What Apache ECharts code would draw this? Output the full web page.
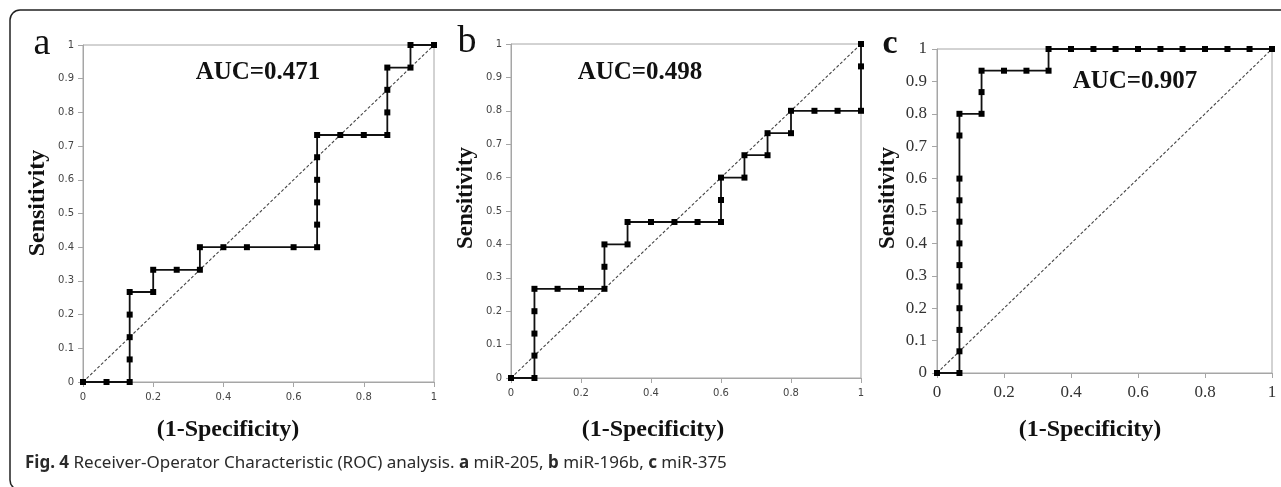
<!DOCTYPE html>
<html>
<head>
<meta charset="utf-8">
<script src="https://cdn.jsdelivr.net/npm/echarts@6/dist/echarts.min.js"></script>
<style>
html,body{margin:0;padding:0;background:#fff;}
#chart{width:1281px;height:487px;}
</style>
</head>
<body>
<div id="chart"></div>
<script>
// ---- data ----
const panelLabels = ['a', 'b', 'c'];
const aucTexts = ['AUC=0.471', 'AUC=0.498', 'AUC=0.907'];
const xTitle = '(1-Specificity)';
const yTitle = 'Sensitivity';
const caption = 'Receiver-Operator Characteristic (ROC) analysis.';

const fprA = [0, 0.067, 0.133, 0.133, 0.133, 0.133, 0.133, 0.2, 0.2, 0.267, 0.333, 0.333, 0.4, 0.467, 0.6, 0.667, 0.667, 0.667, 0.667, 0.667, 0.667, 0.733, 0.8, 0.867, 0.867, 0.867, 0.867, 0.933, 0.933, 1];
const tprA = [0, 0, 0, 0.067, 0.133, 0.2, 0.267, 0.267, 0.333, 0.333, 0.333, 0.4, 0.4, 0.4, 0.4, 0.4, 0.467, 0.533, 0.6, 0.667, 0.733, 0.733, 0.733, 0.733, 0.8, 0.867, 0.933, 0.933, 1, 1];

const fprB = [0, 0.067, 0.067, 0.067, 0.067, 0.067, 0.133, 0.2, 0.267, 0.267, 0.267, 0.333, 0.333, 0.4, 0.467, 0.533, 0.6, 0.6, 0.6, 0.667, 0.667, 0.733, 0.733, 0.8, 0.8, 0.867, 0.933, 1, 1, 1];
const tprB = [0, 0, 0.067, 0.133, 0.2, 0.267, 0.267, 0.267, 0.267, 0.333, 0.4, 0.4, 0.467, 0.467, 0.467, 0.467, 0.467, 0.533, 0.6, 0.6, 0.667, 0.667, 0.733, 0.733, 0.8, 0.8, 0.8, 0.8, 0.933, 1];

const fprC = [0, 0.067, 0.067, 0.067, 0.067, 0.067, 0.067, 0.067, 0.067, 0.067, 0.067, 0.067, 0.067, 0.133, 0.133, 0.133, 0.2, 0.267, 0.333, 0.333, 0.4, 0.467, 0.533, 0.6, 0.667, 0.733, 0.8, 0.867, 0.933, 1];
const tprC = [0, 0, 0.067, 0.133, 0.2, 0.267, 0.333, 0.4, 0.467, 0.533, 0.6, 0.733, 0.8, 0.8, 0.867, 0.933, 0.933, 0.933, 0.933, 1, 1, 1, 1, 1, 1, 1, 1, 1, 1, 1];

const diagX = [0, 1];
const diagY = [0, 1];

// ---- layout ----
const grids = [
  {left: 83, top: 45, width: 351, height: 337},
  {left: 511, top: 44, width: 350, height: 334},
  {left: 937, top: 49, width: 335, height: 324}
];
const curves = [[fprA, tprA], [fprB, tprB], [fprC, tprC]];
const serif = '"Liberation Serif", "DejaVu Serif", serif';

const smallLabel = {fontFamily: '"DejaVu Sans", sans-serif', fontSize: 10, color: '#444'};
const serifLabel = {fontFamily: serif, fontSize: 17, color: '#333'};

const xAxes = [], yAxes = [], series = [];
grids.forEach((g, i) => {
  const lab = i === 2 ? serifLabel : smallLabel;
  xAxes.push({
    type: 'value', gridIndex: i, min: 0, max: 1, interval: 0.2,
    axisLine: {show: true, lineStyle: {color: '#a6a6a6', width: 1}},
    axisTick: {show: true, length: 5, lineStyle: {color: '#a6a6a6'}},
    splitLine: {show: false},
    axisLabel: Object.assign({margin: i === 2 ? 11 : 10}, lab)
  });
  yAxes.push({
    type: 'value', gridIndex: i, min: 0, max: 1, interval: 0.1,
    axisLine: {show: true, lineStyle: {color: '#a6a6a6', width: 1}},
    axisTick: {show: true, length: 5, lineStyle: {color: '#a6a6a6'}},
    splitLine: {show: false},
    axisLabel: Object.assign({margin: i === 2 ? 10 : 9}, lab)
  });
  series.push({
    type: 'line', xAxisIndex: i, yAxisIndex: i,
    data: diagX.map((x, k) => [x, diagY[k]]),
    symbol: 'none', silent: true, z: 2,
    lineStyle: {color: '#444', width: 1.1, type: [3, 2]}
  });
  const [fx, ty] = curves[i];
  series.push({
    type: 'line', xAxisIndex: i, yAxisIndex: i,
    data: fx.map((x, k) => [x, ty[k]]),
    symbol: 'rect', symbolSize: 6, silent: true, z: 3,
    itemStyle: {color: '#000'},
    lineStyle: {color: '#111', width: 1.8}
  });
});

const graphics = [
  {type: 'rect', shape: {x: 10, y: 10, width: 1300, height: 480, r: 10},
   style: {fill: 'none', stroke: '#222', lineWidth: 1.5}, silent: true},
  // panel letters
  {type: 'text', x: 42, y: 44, style: {text: panelLabels[0], font: '38px ' + serif, fill: '#111', align: 'center', verticalAlign: 'middle'}},
  {type: 'text', x: 467, y: 42, style: {text: panelLabels[1], font: '38px ' + serif, fill: '#111', align: 'center', verticalAlign: 'middle'}},
  {type: 'text', x: 890, y: 44, style: {text: panelLabels[2], font: 'bold 34px ' + serif, fill: '#111', align: 'center', verticalAlign: 'middle'}},
  // AUC labels
  {type: 'text', x: 258, y: 73, style: {text: aucTexts[0], font: 'bold 25px ' + serif, fill: '#111', align: 'center', verticalAlign: 'middle'}},
  {type: 'text', x: 640, y: 73, style: {text: aucTexts[1], font: 'bold 25px ' + serif, fill: '#111', align: 'center', verticalAlign: 'middle'}},
  {type: 'text', x: 1135, y: 82, style: {text: aucTexts[2], font: 'bold 25px ' + serif, fill: '#111', align: 'center', verticalAlign: 'middle'}},
  // axis titles
  {type: 'text', x: 228, y: 430, style: {text: xTitle, font: 'bold 24px ' + serif, fill: '#111', align: 'center', verticalAlign: 'middle'}},
  {type: 'text', x: 653, y: 430, style: {text: xTitle, font: 'bold 24px ' + serif, fill: '#111', align: 'center', verticalAlign: 'middle'}},
  {type: 'text', x: 1090, y: 430, style: {text: xTitle, font: 'bold 24px ' + serif, fill: '#111', align: 'center', verticalAlign: 'middle'}},
  {type: 'text', x: 38, y: 203, rotation: Math.PI / 2, style: {text: yTitle, font: 'bold 24px ' + serif, fill: '#111', align: 'center', verticalAlign: 'middle'}},
  {type: 'text', x: 466, y: 198, rotation: Math.PI / 2, style: {text: yTitle, font: 'bold 23px ' + serif, fill: '#111', align: 'center', verticalAlign: 'middle'}},
  {type: 'text', x: 888, y: 198, rotation: Math.PI / 2, style: {text: yTitle, font: 'bold 23px ' + serif, fill: '#111', align: 'center', verticalAlign: 'middle'}},
  // caption
  {type: 'text', x: 25, y: 463, style: {
    text: '{b|Fig. 4} ' + caption + ' {b|a} miR-205, {b|b} miR-196b, {b|c} miR-375',
    font: '17px "Noto Sans", sans-serif', fill: '#2a2a2a', verticalAlign: 'middle',
    rich: {b: {fontWeight: 'bold', fontSize: 17, fontFamily: '"Noto Sans", sans-serif', fill: '#2a2a2a'}}
  }}
];

const chart = echarts.init(document.getElementById('chart'), null, {renderer: 'canvas'});
chart.setOption({
  animation: false,
  backgroundColor: '#fff',
  grid: grids.map(g => Object.assign({show: true, borderColor: '#a6a6a6', borderWidth: 1, backgroundColor: 'transparent', containLabel: false}, g)),
  xAxis: xAxes,
  yAxis: yAxes,
  series: series,
  graphic: graphics
});
</script>
</body>
</html>
